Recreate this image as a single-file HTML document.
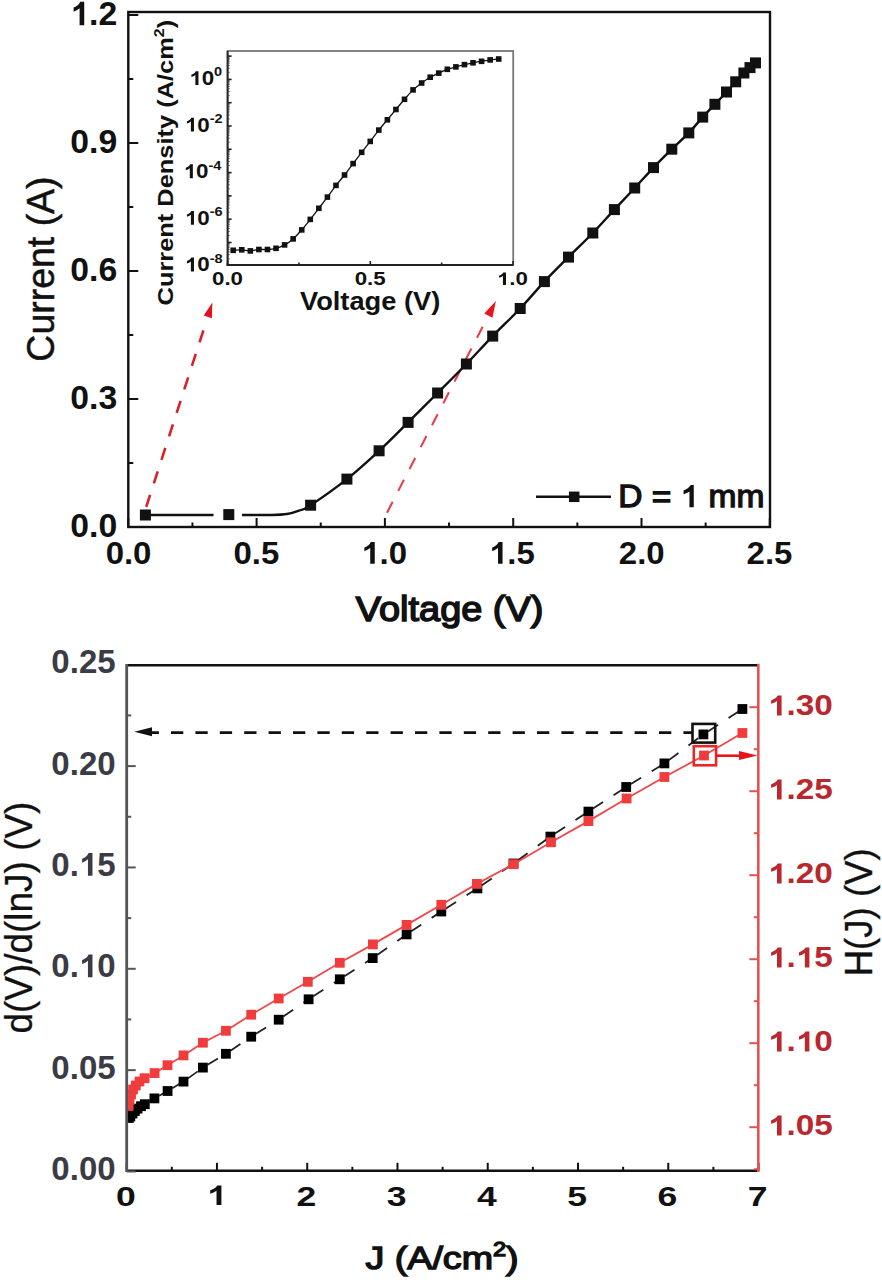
<!DOCTYPE html><html><head><meta charset="utf-8"><title>Chart</title><style>html,body{margin:0;padding:0;background:#fff;width:882px;height:1280px;overflow:hidden}svg{display:block}text{font-family:"Liberation Sans",sans-serif}.one{fill-opacity:0;stroke-opacity:0}</style></head><body>
<svg width="882" height="1280" viewBox="0 0 882 1280">
<rect width="882" height="1280" fill="#fff"/>
<line x1="128.30" y1="527.00" x2="128.30" y2="518.00" stroke="#111" stroke-width="2"/>
<line x1="192.45" y1="527.00" x2="192.45" y2="522.50" stroke="#111" stroke-width="2"/>
<line x1="256.60" y1="527.00" x2="256.60" y2="518.00" stroke="#111" stroke-width="2"/>
<line x1="320.75" y1="527.00" x2="320.75" y2="522.50" stroke="#111" stroke-width="2"/>
<line x1="384.90" y1="527.00" x2="384.90" y2="518.00" stroke="#111" stroke-width="2"/>
<line x1="449.05" y1="527.00" x2="449.05" y2="522.50" stroke="#111" stroke-width="2"/>
<line x1="513.20" y1="527.00" x2="513.20" y2="518.00" stroke="#111" stroke-width="2"/>
<line x1="577.35" y1="527.00" x2="577.35" y2="522.50" stroke="#111" stroke-width="2"/>
<line x1="641.50" y1="527.00" x2="641.50" y2="518.00" stroke="#111" stroke-width="2"/>
<line x1="705.65" y1="527.00" x2="705.65" y2="522.50" stroke="#111" stroke-width="2"/>
<line x1="769.80" y1="527.00" x2="769.80" y2="518.00" stroke="#111" stroke-width="2"/>
<line x1="128.30" y1="527.00" x2="138.30" y2="527.00" stroke="#111" stroke-width="2"/>
<line x1="128.30" y1="463.00" x2="133.30" y2="463.00" stroke="#111" stroke-width="2"/>
<line x1="128.30" y1="399.00" x2="138.30" y2="399.00" stroke="#111" stroke-width="2"/>
<line x1="128.30" y1="335.00" x2="133.30" y2="335.00" stroke="#111" stroke-width="2"/>
<line x1="128.30" y1="271.00" x2="138.30" y2="271.00" stroke="#111" stroke-width="2"/>
<line x1="128.30" y1="207.00" x2="133.30" y2="207.00" stroke="#111" stroke-width="2"/>
<line x1="128.30" y1="143.00" x2="138.30" y2="143.00" stroke="#111" stroke-width="2"/>
<line x1="128.30" y1="79.00" x2="133.30" y2="79.00" stroke="#111" stroke-width="2"/>
<line x1="128.30" y1="15.00" x2="138.30" y2="15.00" stroke="#111" stroke-width="2"/>
<rect x="128.30" y="12.00" width="641.70" height="515.00" fill="none" stroke="#111" stroke-width="2.4"/>
<line x1="203.40" y1="330.38" x2="145.20" y2="510.00" stroke="#dc1f2b" stroke-width="2.6" stroke-dasharray="12.6 12.1"/><polygon points="212.40,302.60 203.69,315.54 211.87,318.20" fill="#e0141e"/>
<line x1="482.68" y1="326.70" x2="385.60" y2="515.50" stroke="#e6404c" stroke-width="2.1" stroke-dasharray="12.4 12.2"/><polygon points="495.90,301.00 484.26,313.57 492.45,317.78" fill="#e8141c"/>
<line x1="145.4" y1="515" x2="213.5" y2="515" stroke="#111" stroke-width="2.4"/>
<path d="M242.00,515.00 C247.00,515.00 264.50,515.17 272.00,515.00 C279.50,514.83 282.50,514.73 287.00,514.00 C291.50,513.27 295.07,512.07 299.00,510.60 C302.93,509.13 302.62,510.45 310.60,505.20 C318.58,499.95 335.48,488.17 346.90,479.10 C358.32,470.03 368.90,460.25 379.10,450.80 C389.30,441.35 398.35,432.03 408.10,422.40 C417.85,412.77 427.88,402.73 437.60,393.00 C447.32,383.27 457.22,373.48 466.40,364.00 C475.58,354.52 483.73,345.35 492.70,336.10 C501.67,326.85 511.58,317.58 520.20,308.50 C528.82,299.42 536.35,290.17 544.40,281.60 C552.45,273.03 560.43,265.20 568.50,257.10 C576.57,249.00 585.15,240.92 592.80,233.00 C600.45,225.08 607.42,217.10 614.40,209.60 C621.38,202.10 628.18,195.00 634.70,188.00 C641.22,181.00 647.32,174.07 653.50,167.60 C659.68,161.13 665.92,154.98 671.80,149.20 C677.68,143.42 683.65,138.25 688.80,132.90 C693.95,127.55 698.35,121.87 702.70,117.10 C707.05,112.33 710.93,108.48 714.90,104.30 C718.87,100.12 723.03,95.75 726.50,92.00 C729.97,88.25 732.80,84.97 735.70,81.80 C738.60,78.63 741.52,75.37 743.90,73.00 C746.28,70.63 748.07,69.28 750.00,67.60 C751.93,65.92 754.58,63.68 755.50,62.90" fill="none" stroke="#111" stroke-width="2.4"/>
<rect x="139.90" y="509.50" width="11" height="11" fill="#111"/>
<rect x="223.30" y="509.10" width="11" height="11" fill="#111"/>
<rect x="305.10" y="499.70" width="11" height="11" fill="#111"/>
<rect x="341.40" y="473.60" width="11" height="11" fill="#111"/>
<rect x="373.60" y="445.30" width="11" height="11" fill="#111"/>
<rect x="402.60" y="416.90" width="11" height="11" fill="#111"/>
<rect x="432.10" y="387.50" width="11" height="11" fill="#111"/>
<rect x="460.90" y="358.50" width="11" height="11" fill="#111"/>
<rect x="487.20" y="330.60" width="11" height="11" fill="#111"/>
<rect x="514.70" y="303.00" width="11" height="11" fill="#111"/>
<rect x="538.90" y="276.10" width="11" height="11" fill="#111"/>
<rect x="563.00" y="251.60" width="11" height="11" fill="#111"/>
<rect x="587.30" y="227.50" width="11" height="11" fill="#111"/>
<rect x="608.90" y="204.10" width="11" height="11" fill="#111"/>
<rect x="629.20" y="182.50" width="11" height="11" fill="#111"/>
<rect x="648.00" y="162.10" width="11" height="11" fill="#111"/>
<rect x="666.30" y="143.70" width="11" height="11" fill="#111"/>
<rect x="683.30" y="127.40" width="11" height="11" fill="#111"/>
<rect x="697.20" y="111.60" width="11" height="11" fill="#111"/>
<rect x="709.40" y="98.80" width="11" height="11" fill="#111"/>
<rect x="721.00" y="86.50" width="11" height="11" fill="#111"/>
<rect x="730.20" y="76.30" width="11" height="11" fill="#111"/>
<rect x="738.40" y="67.50" width="11" height="11" fill="#111"/>
<rect x="744.50" y="62.10" width="11" height="11" fill="#111"/>
<rect x="750.00" y="57.40" width="11" height="11" fill="#111"/>
<line x1="536" y1="496.8" x2="611" y2="496.8" stroke="#111" stroke-width="2.4"/>
<rect x="568.95" y="491.55" width="10.5" height="10.5" fill="#111"/>
<rect x="227.60" y="51.00" width="285.60" height="214.00" fill="#fff" stroke="#777" stroke-width="1.8"/>
<line x1="227.60" y1="51.00" x2="227.60" y2="265.90" stroke="#222" stroke-width="1.8"/>
<line x1="226.70" y1="265.00" x2="513.20" y2="265.00" stroke="#222" stroke-width="1.8"/>
<line x1="227.60" y1="258.79" x2="229.60" y2="258.79" stroke="#444" stroke-width="1"/>
<line x1="227.60" y1="254.68" x2="229.60" y2="254.68" stroke="#444" stroke-width="1"/>
<line x1="227.60" y1="251.77" x2="229.60" y2="251.77" stroke="#444" stroke-width="1"/>
<line x1="227.60" y1="249.51" x2="229.60" y2="249.51" stroke="#444" stroke-width="1"/>
<line x1="227.60" y1="247.67" x2="229.60" y2="247.67" stroke="#444" stroke-width="1"/>
<line x1="227.60" y1="246.11" x2="229.60" y2="246.11" stroke="#444" stroke-width="1"/>
<line x1="227.60" y1="244.76" x2="229.60" y2="244.76" stroke="#444" stroke-width="1"/>
<line x1="227.60" y1="243.57" x2="229.60" y2="243.57" stroke="#444" stroke-width="1"/>
<line x1="227.60" y1="242.50" x2="231.60" y2="242.50" stroke="#222" stroke-width="1.6"/>
<line x1="227.60" y1="235.49" x2="229.60" y2="235.49" stroke="#444" stroke-width="1"/>
<line x1="227.60" y1="231.38" x2="229.60" y2="231.38" stroke="#444" stroke-width="1"/>
<line x1="227.60" y1="228.47" x2="229.60" y2="228.47" stroke="#444" stroke-width="1"/>
<line x1="227.60" y1="226.21" x2="229.60" y2="226.21" stroke="#444" stroke-width="1"/>
<line x1="227.60" y1="224.37" x2="229.60" y2="224.37" stroke="#444" stroke-width="1"/>
<line x1="227.60" y1="222.81" x2="229.60" y2="222.81" stroke="#444" stroke-width="1"/>
<line x1="227.60" y1="221.46" x2="229.60" y2="221.46" stroke="#444" stroke-width="1"/>
<line x1="227.60" y1="220.27" x2="229.60" y2="220.27" stroke="#444" stroke-width="1"/>
<line x1="227.60" y1="219.20" x2="231.60" y2="219.20" stroke="#222" stroke-width="1.6"/>
<line x1="227.60" y1="212.19" x2="229.60" y2="212.19" stroke="#444" stroke-width="1"/>
<line x1="227.60" y1="208.08" x2="229.60" y2="208.08" stroke="#444" stroke-width="1"/>
<line x1="227.60" y1="205.17" x2="229.60" y2="205.17" stroke="#444" stroke-width="1"/>
<line x1="227.60" y1="202.91" x2="229.60" y2="202.91" stroke="#444" stroke-width="1"/>
<line x1="227.60" y1="201.07" x2="229.60" y2="201.07" stroke="#444" stroke-width="1"/>
<line x1="227.60" y1="199.51" x2="229.60" y2="199.51" stroke="#444" stroke-width="1"/>
<line x1="227.60" y1="198.16" x2="229.60" y2="198.16" stroke="#444" stroke-width="1"/>
<line x1="227.60" y1="196.97" x2="229.60" y2="196.97" stroke="#444" stroke-width="1"/>
<line x1="227.60" y1="195.90" x2="231.60" y2="195.90" stroke="#222" stroke-width="1.6"/>
<line x1="227.60" y1="188.89" x2="229.60" y2="188.89" stroke="#444" stroke-width="1"/>
<line x1="227.60" y1="184.78" x2="229.60" y2="184.78" stroke="#444" stroke-width="1"/>
<line x1="227.60" y1="181.87" x2="229.60" y2="181.87" stroke="#444" stroke-width="1"/>
<line x1="227.60" y1="179.61" x2="229.60" y2="179.61" stroke="#444" stroke-width="1"/>
<line x1="227.60" y1="177.77" x2="229.60" y2="177.77" stroke="#444" stroke-width="1"/>
<line x1="227.60" y1="176.21" x2="229.60" y2="176.21" stroke="#444" stroke-width="1"/>
<line x1="227.60" y1="174.86" x2="229.60" y2="174.86" stroke="#444" stroke-width="1"/>
<line x1="227.60" y1="173.67" x2="229.60" y2="173.67" stroke="#444" stroke-width="1"/>
<line x1="227.60" y1="172.60" x2="231.60" y2="172.60" stroke="#222" stroke-width="1.6"/>
<line x1="227.60" y1="165.59" x2="229.60" y2="165.59" stroke="#444" stroke-width="1"/>
<line x1="227.60" y1="161.48" x2="229.60" y2="161.48" stroke="#444" stroke-width="1"/>
<line x1="227.60" y1="158.57" x2="229.60" y2="158.57" stroke="#444" stroke-width="1"/>
<line x1="227.60" y1="156.31" x2="229.60" y2="156.31" stroke="#444" stroke-width="1"/>
<line x1="227.60" y1="154.47" x2="229.60" y2="154.47" stroke="#444" stroke-width="1"/>
<line x1="227.60" y1="152.91" x2="229.60" y2="152.91" stroke="#444" stroke-width="1"/>
<line x1="227.60" y1="151.56" x2="229.60" y2="151.56" stroke="#444" stroke-width="1"/>
<line x1="227.60" y1="150.37" x2="229.60" y2="150.37" stroke="#444" stroke-width="1"/>
<line x1="227.60" y1="149.30" x2="231.60" y2="149.30" stroke="#222" stroke-width="1.6"/>
<line x1="227.60" y1="142.29" x2="229.60" y2="142.29" stroke="#444" stroke-width="1"/>
<line x1="227.60" y1="138.18" x2="229.60" y2="138.18" stroke="#444" stroke-width="1"/>
<line x1="227.60" y1="135.27" x2="229.60" y2="135.27" stroke="#444" stroke-width="1"/>
<line x1="227.60" y1="133.01" x2="229.60" y2="133.01" stroke="#444" stroke-width="1"/>
<line x1="227.60" y1="131.17" x2="229.60" y2="131.17" stroke="#444" stroke-width="1"/>
<line x1="227.60" y1="129.61" x2="229.60" y2="129.61" stroke="#444" stroke-width="1"/>
<line x1="227.60" y1="128.26" x2="229.60" y2="128.26" stroke="#444" stroke-width="1"/>
<line x1="227.60" y1="127.07" x2="229.60" y2="127.07" stroke="#444" stroke-width="1"/>
<line x1="227.60" y1="126.00" x2="231.60" y2="126.00" stroke="#222" stroke-width="1.6"/>
<line x1="227.60" y1="118.99" x2="229.60" y2="118.99" stroke="#444" stroke-width="1"/>
<line x1="227.60" y1="114.88" x2="229.60" y2="114.88" stroke="#444" stroke-width="1"/>
<line x1="227.60" y1="111.97" x2="229.60" y2="111.97" stroke="#444" stroke-width="1"/>
<line x1="227.60" y1="109.71" x2="229.60" y2="109.71" stroke="#444" stroke-width="1"/>
<line x1="227.60" y1="107.87" x2="229.60" y2="107.87" stroke="#444" stroke-width="1"/>
<line x1="227.60" y1="106.31" x2="229.60" y2="106.31" stroke="#444" stroke-width="1"/>
<line x1="227.60" y1="104.96" x2="229.60" y2="104.96" stroke="#444" stroke-width="1"/>
<line x1="227.60" y1="103.77" x2="229.60" y2="103.77" stroke="#444" stroke-width="1"/>
<line x1="227.60" y1="102.70" x2="231.60" y2="102.70" stroke="#222" stroke-width="1.6"/>
<line x1="227.60" y1="95.69" x2="229.60" y2="95.69" stroke="#444" stroke-width="1"/>
<line x1="227.60" y1="91.58" x2="229.60" y2="91.58" stroke="#444" stroke-width="1"/>
<line x1="227.60" y1="88.67" x2="229.60" y2="88.67" stroke="#444" stroke-width="1"/>
<line x1="227.60" y1="86.41" x2="229.60" y2="86.41" stroke="#444" stroke-width="1"/>
<line x1="227.60" y1="84.57" x2="229.60" y2="84.57" stroke="#444" stroke-width="1"/>
<line x1="227.60" y1="83.01" x2="229.60" y2="83.01" stroke="#444" stroke-width="1"/>
<line x1="227.60" y1="81.66" x2="229.60" y2="81.66" stroke="#444" stroke-width="1"/>
<line x1="227.60" y1="80.47" x2="229.60" y2="80.47" stroke="#444" stroke-width="1"/>
<line x1="227.60" y1="79.40" x2="231.60" y2="79.40" stroke="#222" stroke-width="1.6"/>
<line x1="227.60" y1="72.39" x2="229.60" y2="72.39" stroke="#444" stroke-width="1"/>
<line x1="227.60" y1="68.28" x2="229.60" y2="68.28" stroke="#444" stroke-width="1"/>
<line x1="227.60" y1="65.37" x2="229.60" y2="65.37" stroke="#444" stroke-width="1"/>
<line x1="227.60" y1="63.11" x2="229.60" y2="63.11" stroke="#444" stroke-width="1"/>
<line x1="227.60" y1="61.27" x2="229.60" y2="61.27" stroke="#444" stroke-width="1"/>
<line x1="227.60" y1="59.71" x2="229.60" y2="59.71" stroke="#444" stroke-width="1"/>
<line x1="227.60" y1="58.36" x2="229.60" y2="58.36" stroke="#444" stroke-width="1"/>
<line x1="227.60" y1="57.17" x2="229.60" y2="57.17" stroke="#444" stroke-width="1"/>
<line x1="227.60" y1="56.10" x2="231.60" y2="56.10" stroke="#222" stroke-width="1.6"/>
<line x1="227.60" y1="265.00" x2="227.60" y2="261.00" stroke="#222" stroke-width="1.6"/>
<line x1="298.95" y1="265.00" x2="298.95" y2="262.50" stroke="#222" stroke-width="1.6"/>
<line x1="370.30" y1="265.00" x2="370.30" y2="261.00" stroke="#222" stroke-width="1.6"/>
<line x1="441.65" y1="265.00" x2="441.65" y2="262.50" stroke="#222" stroke-width="1.6"/>
<line x1="513.00" y1="265.00" x2="513.00" y2="261.00" stroke="#222" stroke-width="1.6"/>
<path d="M233.20,250.30 C234.63,250.22 238.91,249.70 241.76,249.80 C244.62,249.90 247.47,250.95 250.33,250.90 C253.18,250.85 256.04,249.73 258.89,249.50 C261.75,249.27 264.60,249.70 267.46,249.50 C270.31,249.30 273.17,249.07 276.02,248.30 C278.88,247.53 281.73,246.47 284.59,244.90 C287.44,243.33 290.30,241.40 293.15,238.90 C296.01,236.40 298.86,233.15 301.72,229.90 C304.57,226.65 307.43,223.00 310.28,219.40 C313.14,215.80 315.99,212.02 318.85,208.30 C321.70,204.58 324.56,200.92 327.41,197.10 C330.27,193.28 333.12,189.08 335.98,185.40 C338.84,181.72 341.69,178.63 344.54,175.00 C347.40,171.37 350.25,167.38 353.11,163.60 C355.97,159.82 358.82,156.00 361.67,152.30 C364.53,148.60 367.38,145.10 370.24,141.40 C373.10,137.70 375.95,133.70 378.80,130.10 C381.66,126.50 384.51,123.23 387.37,119.80 C390.23,116.37 393.08,112.92 395.93,109.50 C398.79,106.08 401.64,102.57 404.50,99.30 C407.36,96.03 410.21,92.62 413.06,89.90 C415.92,87.18 418.77,85.12 421.63,83.00 C424.49,80.88 427.34,78.85 430.19,77.20 C433.05,75.55 435.90,74.42 438.76,73.10 C441.62,71.78 444.47,70.33 447.32,69.30 C450.18,68.27 453.03,67.68 455.89,66.90 C458.75,66.12 461.60,65.28 464.45,64.60 C467.31,63.92 470.16,63.35 473.02,62.80 C475.88,62.25 478.73,61.78 481.58,61.30 C484.44,60.82 487.29,60.28 490.15,59.90 C493.00,59.52 497.29,59.15 498.71,59.00" fill="none" stroke="#111" stroke-width="1.3"/>
<rect x="230.40" y="247.50" width="5.6" height="5.6" fill="#111"/>
<rect x="238.96" y="247.00" width="5.6" height="5.6" fill="#111"/>
<rect x="247.53" y="248.10" width="5.6" height="5.6" fill="#111"/>
<rect x="256.09" y="246.70" width="5.6" height="5.6" fill="#111"/>
<rect x="264.66" y="246.70" width="5.6" height="5.6" fill="#111"/>
<rect x="273.22" y="245.50" width="5.6" height="5.6" fill="#111"/>
<rect x="281.79" y="242.10" width="5.6" height="5.6" fill="#111"/>
<rect x="290.35" y="236.10" width="5.6" height="5.6" fill="#111"/>
<rect x="298.92" y="227.10" width="5.6" height="5.6" fill="#111"/>
<rect x="307.48" y="216.60" width="5.6" height="5.6" fill="#111"/>
<rect x="316.05" y="205.50" width="5.6" height="5.6" fill="#111"/>
<rect x="324.61" y="194.30" width="5.6" height="5.6" fill="#111"/>
<rect x="333.18" y="182.60" width="5.6" height="5.6" fill="#111"/>
<rect x="341.74" y="172.20" width="5.6" height="5.6" fill="#111"/>
<rect x="350.31" y="160.80" width="5.6" height="5.6" fill="#111"/>
<rect x="358.87" y="149.50" width="5.6" height="5.6" fill="#111"/>
<rect x="367.44" y="138.60" width="5.6" height="5.6" fill="#111"/>
<rect x="376.00" y="127.30" width="5.6" height="5.6" fill="#111"/>
<rect x="384.57" y="117.00" width="5.6" height="5.6" fill="#111"/>
<rect x="393.13" y="106.70" width="5.6" height="5.6" fill="#111"/>
<rect x="401.70" y="96.50" width="5.6" height="5.6" fill="#111"/>
<rect x="410.26" y="87.10" width="5.6" height="5.6" fill="#111"/>
<rect x="418.83" y="80.20" width="5.6" height="5.6" fill="#111"/>
<rect x="427.39" y="74.40" width="5.6" height="5.6" fill="#111"/>
<rect x="435.96" y="70.30" width="5.6" height="5.6" fill="#111"/>
<rect x="444.52" y="66.50" width="5.6" height="5.6" fill="#111"/>
<rect x="453.09" y="64.10" width="5.6" height="5.6" fill="#111"/>
<rect x="461.65" y="61.80" width="5.6" height="5.6" fill="#111"/>
<rect x="470.22" y="60.00" width="5.6" height="5.6" fill="#111"/>
<rect x="478.78" y="58.50" width="5.6" height="5.6" fill="#111"/>
<rect x="487.35" y="57.10" width="5.6" height="5.6" fill="#111"/>
<rect x="495.91" y="56.20" width="5.6" height="5.6" fill="#111"/>
<line x1="126.70" y1="665.30" x2="758.30" y2="665.30" stroke="#111" stroke-width="2.4"/>
<line x1="126.70" y1="1170.80" x2="758.30" y2="1170.80" stroke="#111" stroke-width="2.6"/>
<line x1="126.70" y1="1170.80" x2="126.70" y2="1162.80" stroke="#111" stroke-width="2"/>
<line x1="171.83" y1="1170.80" x2="171.83" y2="1166.80" stroke="#111" stroke-width="2"/>
<line x1="216.96" y1="1170.80" x2="216.96" y2="1162.80" stroke="#111" stroke-width="2"/>
<line x1="262.09" y1="1170.80" x2="262.09" y2="1166.80" stroke="#111" stroke-width="2"/>
<line x1="307.22" y1="1170.80" x2="307.22" y2="1162.80" stroke="#111" stroke-width="2"/>
<line x1="352.35" y1="1170.80" x2="352.35" y2="1166.80" stroke="#111" stroke-width="2"/>
<line x1="397.48" y1="1170.80" x2="397.48" y2="1162.80" stroke="#111" stroke-width="2"/>
<line x1="442.61" y1="1170.80" x2="442.61" y2="1166.80" stroke="#111" stroke-width="2"/>
<line x1="487.74" y1="1170.80" x2="487.74" y2="1162.80" stroke="#111" stroke-width="2"/>
<line x1="532.87" y1="1170.80" x2="532.87" y2="1166.80" stroke="#111" stroke-width="2"/>
<line x1="578.00" y1="1170.80" x2="578.00" y2="1162.80" stroke="#111" stroke-width="2"/>
<line x1="623.13" y1="1170.80" x2="623.13" y2="1166.80" stroke="#111" stroke-width="2"/>
<line x1="668.26" y1="1170.80" x2="668.26" y2="1162.80" stroke="#111" stroke-width="2"/>
<line x1="713.39" y1="1170.80" x2="713.39" y2="1166.80" stroke="#111" stroke-width="2"/>
<line x1="758.52" y1="1170.80" x2="758.52" y2="1162.80" stroke="#111" stroke-width="2"/>
<line x1="126.70" y1="664.10" x2="126.70" y2="1172.10" stroke="#555" stroke-width="2.8"/>
<line x1="126.70" y1="1171.50" x2="135.70" y2="1171.50" stroke="#555" stroke-width="2"/>
<line x1="126.70" y1="1120.83" x2="131.20" y2="1120.83" stroke="#555" stroke-width="2"/>
<line x1="126.70" y1="1070.15" x2="135.70" y2="1070.15" stroke="#555" stroke-width="2"/>
<line x1="126.70" y1="1019.47" x2="131.20" y2="1019.47" stroke="#555" stroke-width="2"/>
<line x1="126.70" y1="968.80" x2="135.70" y2="968.80" stroke="#555" stroke-width="2"/>
<line x1="126.70" y1="918.12" x2="131.20" y2="918.12" stroke="#555" stroke-width="2"/>
<line x1="126.70" y1="867.45" x2="135.70" y2="867.45" stroke="#555" stroke-width="2"/>
<line x1="126.70" y1="816.77" x2="131.20" y2="816.77" stroke="#555" stroke-width="2"/>
<line x1="126.70" y1="766.10" x2="135.70" y2="766.10" stroke="#555" stroke-width="2"/>
<line x1="126.70" y1="715.42" x2="131.20" y2="715.42" stroke="#555" stroke-width="2"/>
<line x1="758.30" y1="663.80" x2="758.30" y2="1172.10" stroke="#e25454" stroke-width="2.6"/>
<line x1="758.30" y1="1169.20" x2="753.80" y2="1169.20" stroke="#e25454" stroke-width="2"/>
<line x1="758.30" y1="1127.20" x2="749.30" y2="1127.20" stroke="#e25454" stroke-width="2"/>
<line x1="758.30" y1="1085.20" x2="753.80" y2="1085.20" stroke="#e25454" stroke-width="2"/>
<line x1="758.30" y1="1043.20" x2="749.30" y2="1043.20" stroke="#e25454" stroke-width="2"/>
<line x1="758.30" y1="1001.20" x2="753.80" y2="1001.20" stroke="#e25454" stroke-width="2"/>
<line x1="758.30" y1="959.20" x2="749.30" y2="959.20" stroke="#e25454" stroke-width="2"/>
<line x1="758.30" y1="917.20" x2="753.80" y2="917.20" stroke="#e25454" stroke-width="2"/>
<line x1="758.30" y1="875.20" x2="749.30" y2="875.20" stroke="#e25454" stroke-width="2"/>
<line x1="758.30" y1="833.20" x2="753.80" y2="833.20" stroke="#e25454" stroke-width="2"/>
<line x1="758.30" y1="791.20" x2="749.30" y2="791.20" stroke="#e25454" stroke-width="2"/>
<line x1="758.30" y1="749.20" x2="753.80" y2="749.20" stroke="#e25454" stroke-width="2"/>
<line x1="758.30" y1="707.20" x2="749.30" y2="707.20" stroke="#e25454" stroke-width="2"/>
<defs><clipPath id="bclip"><rect x="128.1" y="666.50" width="629.10" height="503.00"/></clipPath></defs><g clip-path="url(#bclip)">
<line x1="128.8" y1="1118.0" x2="130.3" y2="1116.5" stroke="#222" stroke-width="1.8" stroke-dasharray="12 12.5" stroke-dashoffset="19"/>
<line x1="130.3" y1="1116.5" x2="132.5" y2="1113.5" stroke="#222" stroke-width="1.8" stroke-dasharray="12 12.5" stroke-dashoffset="19"/>
<line x1="132.5" y1="1113.5" x2="134.8" y2="1111.0" stroke="#222" stroke-width="1.8" stroke-dasharray="12 12.5" stroke-dashoffset="19"/>
<line x1="134.8" y1="1111.0" x2="137.5" y2="1108.6" stroke="#222" stroke-width="1.8" stroke-dasharray="12 12.5" stroke-dashoffset="19"/>
<line x1="137.5" y1="1108.6" x2="141.0" y2="1106.2" stroke="#222" stroke-width="1.8" stroke-dasharray="12 12.5" stroke-dashoffset="19"/>
<line x1="141.0" y1="1106.2" x2="144.8" y2="1104.2" stroke="#222" stroke-width="1.8" stroke-dasharray="12 12.5" stroke-dashoffset="19"/>
<line x1="144.8" y1="1104.2" x2="154.4" y2="1098.4" stroke="#222" stroke-width="1.8" stroke-dasharray="12 12.5" stroke-dashoffset="19"/>
<line x1="154.4" y1="1098.4" x2="167.6" y2="1091.0" stroke="#222" stroke-width="1.8" stroke-dasharray="12 12.5" stroke-dashoffset="19"/>
<line x1="167.6" y1="1091.0" x2="183.5" y2="1081.6" stroke="#222" stroke-width="1.8" stroke-dasharray="12 12.5" stroke-dashoffset="19"/>
<line x1="183.5" y1="1081.6" x2="202.9" y2="1067.6" stroke="#222" stroke-width="1.8" stroke-dasharray="12 12.5" stroke-dashoffset="19"/>
<line x1="202.9" y1="1067.6" x2="225.9" y2="1053.8" stroke="#222" stroke-width="1.8" stroke-dasharray="12 12.5" stroke-dashoffset="19"/>
<line x1="225.9" y1="1053.8" x2="251.2" y2="1036.7" stroke="#222" stroke-width="1.8" stroke-dasharray="12 12.5" stroke-dashoffset="19"/>
<line x1="251.2" y1="1036.7" x2="278.7" y2="1019.7" stroke="#222" stroke-width="1.8" stroke-dasharray="12 12.5" stroke-dashoffset="19"/>
<line x1="278.7" y1="1019.7" x2="308.6" y2="999.3" stroke="#222" stroke-width="1.8" stroke-dasharray="12 12.5" stroke-dashoffset="19"/>
<line x1="308.6" y1="999.3" x2="339.8" y2="979.3" stroke="#222" stroke-width="1.8" stroke-dasharray="12 12.5" stroke-dashoffset="19"/>
<line x1="339.8" y1="979.3" x2="372.7" y2="958.1" stroke="#222" stroke-width="1.8" stroke-dasharray="12 12.5" stroke-dashoffset="19"/>
<line x1="372.7" y1="958.1" x2="406.6" y2="934.4" stroke="#222" stroke-width="1.8" stroke-dasharray="12 12.5" stroke-dashoffset="19"/>
<line x1="406.6" y1="934.4" x2="441.3" y2="911.5" stroke="#222" stroke-width="1.8" stroke-dasharray="12 12.5" stroke-dashoffset="19"/>
<line x1="441.3" y1="911.5" x2="477.4" y2="888.4" stroke="#222" stroke-width="1.8" stroke-dasharray="12 12.5" stroke-dashoffset="19"/>
<line x1="477.4" y1="888.4" x2="513.5" y2="863.5" stroke="#222" stroke-width="1.8" stroke-dasharray="12 12.5" stroke-dashoffset="19"/>
<line x1="513.5" y1="863.5" x2="550.4" y2="836.6" stroke="#222" stroke-width="1.8" stroke-dasharray="12 12.5" stroke-dashoffset="19"/>
<line x1="550.4" y1="836.6" x2="588.4" y2="811.6" stroke="#222" stroke-width="1.8" stroke-dasharray="12 12.5" stroke-dashoffset="19"/>
<line x1="588.4" y1="811.6" x2="626.2" y2="787.0" stroke="#222" stroke-width="1.8" stroke-dasharray="12 12.5" stroke-dashoffset="19"/>
<line x1="626.2" y1="787.0" x2="664.4" y2="763.4" stroke="#222" stroke-width="1.8" stroke-dasharray="12 12.5" stroke-dashoffset="19"/>
<line x1="664.4" y1="763.4" x2="703.4" y2="734.4" stroke="#222" stroke-width="1.8" stroke-dasharray="12 12.5" stroke-dashoffset="19"/>
<line x1="703.4" y1="734.4" x2="742.4" y2="709.0" stroke="#222" stroke-width="1.8" stroke-dasharray="12 12.5" stroke-dashoffset="19"/>
<rect x="123.90" y="1113.10" width="9.8" height="9.8" fill="#000"/>
<rect x="125.40" y="1111.60" width="9.8" height="9.8" fill="#000"/>
<rect x="127.60" y="1108.60" width="9.8" height="9.8" fill="#000"/>
<rect x="129.90" y="1106.10" width="9.8" height="9.8" fill="#000"/>
<rect x="132.60" y="1103.70" width="9.8" height="9.8" fill="#000"/>
<rect x="136.10" y="1101.30" width="9.8" height="9.8" fill="#000"/>
<rect x="139.90" y="1099.30" width="9.8" height="9.8" fill="#000"/>
<rect x="149.50" y="1093.50" width="9.8" height="9.8" fill="#000"/>
<rect x="162.70" y="1086.10" width="9.8" height="9.8" fill="#000"/>
<rect x="178.60" y="1076.70" width="9.8" height="9.8" fill="#000"/>
<rect x="198.00" y="1062.70" width="9.8" height="9.8" fill="#000"/>
<rect x="221.00" y="1048.90" width="9.8" height="9.8" fill="#000"/>
<rect x="246.30" y="1031.80" width="9.8" height="9.8" fill="#000"/>
<rect x="273.80" y="1014.80" width="9.8" height="9.8" fill="#000"/>
<rect x="303.70" y="994.40" width="9.8" height="9.8" fill="#000"/>
<rect x="334.90" y="974.40" width="9.8" height="9.8" fill="#000"/>
<rect x="367.80" y="953.20" width="9.8" height="9.8" fill="#000"/>
<rect x="401.70" y="929.50" width="9.8" height="9.8" fill="#000"/>
<rect x="436.40" y="906.60" width="9.8" height="9.8" fill="#000"/>
<rect x="472.50" y="883.50" width="9.8" height="9.8" fill="#000"/>
<rect x="508.60" y="858.60" width="9.8" height="9.8" fill="#000"/>
<rect x="545.50" y="831.70" width="9.8" height="9.8" fill="#000"/>
<rect x="583.50" y="806.70" width="9.8" height="9.8" fill="#000"/>
<rect x="621.30" y="782.10" width="9.8" height="9.8" fill="#000"/>
<rect x="659.50" y="758.50" width="9.8" height="9.8" fill="#000"/>
<rect x="698.50" y="729.50" width="9.8" height="9.8" fill="#000"/>
<rect x="737.50" y="704.10" width="9.8" height="9.8" fill="#000"/>
<polyline points="128.6,1106.0 129.5,1100.0 131.0,1094.5 133.0,1089.5 135.8,1085.5 139.5,1081.5 144.6,1078.2 154.6,1073.1 167.5,1065.2 183.5,1055.4 202.9,1042.7 225.9,1030.8 251.2,1014.7 278.7,998.5 307.8,981.8 339.8,962.8 372.9,944.4 406.6,924.9 441.3,904.8 476.9,883.9 513.5,864.2 551.0,842.3 588.4,821.1 626.6,798.5 664.4,777.0 704.0,755.5 742.4,733.0" fill="none" stroke="#f04848" stroke-width="1.8"/>
<rect x="123.70" y="1101.10" width="9.8" height="9.8" fill="#f03c3c"/>
<rect x="124.60" y="1095.10" width="9.8" height="9.8" fill="#f03c3c"/>
<rect x="126.10" y="1089.60" width="9.8" height="9.8" fill="#f03c3c"/>
<rect x="128.10" y="1084.60" width="9.8" height="9.8" fill="#f03c3c"/>
<rect x="130.90" y="1080.60" width="9.8" height="9.8" fill="#f03c3c"/>
<rect x="134.60" y="1076.60" width="9.8" height="9.8" fill="#f03c3c"/>
<rect x="139.70" y="1073.30" width="9.8" height="9.8" fill="#f03c3c"/>
<rect x="149.70" y="1068.20" width="9.8" height="9.8" fill="#f03c3c"/>
<rect x="162.60" y="1060.30" width="9.8" height="9.8" fill="#f03c3c"/>
<rect x="178.60" y="1050.50" width="9.8" height="9.8" fill="#f03c3c"/>
<rect x="198.00" y="1037.80" width="9.8" height="9.8" fill="#f03c3c"/>
<rect x="221.00" y="1025.90" width="9.8" height="9.8" fill="#f03c3c"/>
<rect x="246.30" y="1009.80" width="9.8" height="9.8" fill="#f03c3c"/>
<rect x="273.80" y="993.60" width="9.8" height="9.8" fill="#f03c3c"/>
<rect x="302.90" y="976.90" width="9.8" height="9.8" fill="#f03c3c"/>
<rect x="334.90" y="957.90" width="9.8" height="9.8" fill="#f03c3c"/>
<rect x="368.00" y="939.50" width="9.8" height="9.8" fill="#f03c3c"/>
<rect x="401.70" y="920.00" width="9.8" height="9.8" fill="#f03c3c"/>
<rect x="436.40" y="899.90" width="9.8" height="9.8" fill="#f03c3c"/>
<rect x="472.00" y="879.00" width="9.8" height="9.8" fill="#f03c3c"/>
<rect x="508.60" y="859.30" width="9.8" height="9.8" fill="#f03c3c"/>
<rect x="546.10" y="837.40" width="9.8" height="9.8" fill="#f03c3c"/>
<rect x="583.50" y="816.20" width="9.8" height="9.8" fill="#f03c3c"/>
<rect x="621.70" y="793.60" width="9.8" height="9.8" fill="#f03c3c"/>
<rect x="659.50" y="772.10" width="9.8" height="9.8" fill="#f03c3c"/>
<rect x="699.10" y="750.60" width="9.8" height="9.8" fill="#f03c3c"/>
<rect x="737.50" y="728.10" width="9.8" height="9.8" fill="#f03c3c"/>
</g>
<rect x="692.5" y="723.9" width="22.7" height="18.7" fill="none" stroke="#111" stroke-width="2.6"/>
<rect x="693.8" y="746.2" width="22.3" height="19.1" fill="none" stroke="#e82828" stroke-width="2.6"/>
<line x1="146.6" y1="732.6" x2="692.5" y2="732.6" stroke="#111" stroke-width="2.8" stroke-dasharray="12.3 12.1"/>
<polygon points="134.3,731.8 152,727.3 152,736.3" fill="#111"/>
<line x1="716.1" y1="755.7" x2="742" y2="755.7" stroke="#e8141c" stroke-width="2.6"/>
<polygon points="757.5,755.5 739,751 739,760" fill="#e8141c"/>
<g transform="translate(70.35,537.20) scale(1.0548,1.0636)"><text font-size="32" font-weight="bold" fill="#111" >0.0</text></g>
<g transform="translate(70.35,409.20) scale(1.0548,1.0636)"><text font-size="32" font-weight="bold" fill="#111" >0.3</text></g>
<g transform="translate(70.35,281.20) scale(1.0548,1.0636)"><text font-size="32" font-weight="bold" fill="#111" >0.6</text></g>
<g transform="translate(70.35,153.20) scale(1.0548,1.0636)"><text font-size="32" font-weight="bold" fill="#111" >0.9</text></g>
<g transform="translate(70.35,25.20) scale(1.0548,1.0636)"><text font-size="32" font-weight="bold" fill="#111" ><tspan class="one">1</tspan>.2</text><path d="M842,0 L561,0 L561,1018 Q407,879 198,813 L198,1058 Q308,1093 426,1182 Q545,1270 599,1409 L842,1409 Z" transform="translate(0.000,0.000) scale(0.01562,-0.01562)" fill="#111" /></g>
<g transform="translate(105.63,563.70) scale(1.0302,0.9864)"><text font-size="32" font-weight="bold" fill="#111" >0.0</text></g>
<g transform="translate(233.42,563.70) scale(1.0302,0.9864)"><text font-size="32" font-weight="bold" fill="#111" >0.5</text></g>
<g transform="translate(361.20,563.70) scale(1.0302,0.9864)"><text font-size="32" font-weight="bold" fill="#111" ><tspan class="one">1</tspan>.0</text><path d="M842,0 L561,0 L561,1018 Q407,879 198,813 L198,1058 Q308,1093 426,1182 Q545,1270 599,1409 L842,1409 Z" transform="translate(0.000,0.000) scale(0.01562,-0.01562)" fill="#111" /></g>
<g transform="translate(488.99,563.70) scale(1.0302,0.9864)"><text font-size="32" font-weight="bold" fill="#111" ><tspan class="one">1</tspan>.5</text><path d="M842,0 L561,0 L561,1018 Q407,879 198,813 L198,1058 Q308,1093 426,1182 Q545,1270 599,1409 L842,1409 Z" transform="translate(0.000,0.000) scale(0.01562,-0.01562)" fill="#111" /></g>
<g transform="translate(618.83,563.70) scale(1.0302,0.9864)"><text font-size="32" font-weight="bold" fill="#111" >2.0</text></g>
<g transform="translate(746.62,563.70) scale(1.0302,0.9864)"><text font-size="32" font-weight="bold" fill="#111" >2.5</text></g>
<g transform="translate(189.24,85.00) scale(1.1194,1.0059)"><text font-size="20" font-weight="bold" fill="#111" ><tspan class="one">1</tspan>0<tspan font-size="13" dy="-8.5">0</tspan></text><path d="M842,0 L561,0 L561,1018 Q407,879 198,813 L198,1058 Q308,1093 426,1182 Q545,1270 599,1409 L842,1409 Z" transform="translate(0.000,0.000) scale(0.00977,-0.00977)" fill="#111" /></g>
<g transform="translate(184.76,131.60) scale(1.1194,1.0059)"><text font-size="20" font-weight="bold" fill="#111" ><tspan class="one">1</tspan>0<tspan font-size="13" dy="-8.5">-2</tspan></text><path d="M842,0 L561,0 L561,1018 Q407,879 198,813 L198,1058 Q308,1093 426,1182 Q545,1270 599,1409 L842,1409 Z" transform="translate(0.000,0.000) scale(0.00977,-0.00977)" fill="#111" /></g>
<g transform="translate(183.64,178.20) scale(1.1194,1.0059)"><text font-size="20" font-weight="bold" fill="#111" ><tspan class="one">1</tspan>0<tspan font-size="13" dy="-8.5">-4</tspan></text><path d="M842,0 L561,0 L561,1018 Q407,879 198,813 L198,1058 Q308,1093 426,1182 Q545,1270 599,1409 L842,1409 Z" transform="translate(0.000,0.000) scale(0.00977,-0.00977)" fill="#111" /></g>
<g transform="translate(184.76,224.80) scale(1.1194,1.0059)"><text font-size="20" font-weight="bold" fill="#111" ><tspan class="one">1</tspan>0<tspan font-size="13" dy="-8.5">-6</tspan></text><path d="M842,0 L561,0 L561,1018 Q407,879 198,813 L198,1058 Q308,1093 426,1182 Q545,1270 599,1409 L842,1409 Z" transform="translate(0.000,0.000) scale(0.00977,-0.00977)" fill="#111" /></g>
<g transform="translate(184.76,271.40) scale(1.1194,1.0059)"><text font-size="20" font-weight="bold" fill="#111" ><tspan class="one">1</tspan>0<tspan font-size="13" dy="-8.5">-8</tspan></text><path d="M842,0 L561,0 L561,1018 Q407,879 198,813 L198,1058 Q308,1093 426,1182 Q545,1270 599,1409 L842,1409 Z" transform="translate(0.000,0.000) scale(0.00977,-0.00977)" fill="#111" /></g>
<g transform="translate(211.98,285.00) scale(1.1160,0.9000)"><text font-size="20" font-weight="bold" fill="#111" >0.0</text></g>
<g transform="translate(354.68,285.00) scale(1.1160,0.9000)"><text font-size="20" font-weight="bold" fill="#111" >0.5</text></g>
<g transform="translate(496.82,285.00) scale(1.1160,0.9000)"><text font-size="20" font-weight="bold" fill="#111" ><tspan class="one">1</tspan>.0</text><path d="M842,0 L561,0 L561,1018 Q407,879 198,813 L198,1058 Q308,1093 426,1182 Q545,1270 599,1409 L842,1409 Z" transform="translate(0.000,0.000) scale(0.00977,-0.00977)" fill="#111" /></g>
<g transform="translate(51.37,1179.90) scale(1.0317,1.0364)"><text font-size="32" font-weight="bold" fill="#3b3b45" >0.00</text></g>
<g transform="translate(51.37,1078.55) scale(1.0317,1.0364)"><text font-size="32" font-weight="bold" fill="#3b3b45" >0.05</text></g>
<g transform="translate(51.37,977.20) scale(1.0317,1.0364)"><text font-size="32" font-weight="bold" fill="#3b3b45" >0.<tspan class="one">1</tspan>0</text><path d="M842,0 L561,0 L561,1018 Q407,879 198,813 L198,1058 Q308,1093 426,1182 Q545,1270 599,1409 L842,1409 Z" transform="translate(26.688,0.000) scale(0.01562,-0.01562)" fill="#3b3b45" /></g>
<g transform="translate(51.37,875.85) scale(1.0317,1.0364)"><text font-size="32" font-weight="bold" fill="#3b3b45" >0.<tspan class="one">1</tspan>5</text><path d="M842,0 L561,0 L561,1018 Q407,879 198,813 L198,1058 Q308,1093 426,1182 Q545,1270 599,1409 L842,1409 Z" transform="translate(26.688,0.000) scale(0.01562,-0.01562)" fill="#3b3b45" /></g>
<g transform="translate(51.37,774.50) scale(1.0317,1.0364)"><text font-size="32" font-weight="bold" fill="#3b3b45" >0.20</text></g>
<g transform="translate(51.37,673.15) scale(1.0317,1.0364)"><text font-size="32" font-weight="bold" fill="#3b3b45" >0.25</text></g>
<g transform="translate(767.88,1135.45) scale(1.0750,0.9409)"><text font-size="31" font-weight="bold" fill="#b8282e" ><tspan class="one">1</tspan>.05</text><path d="M842,0 L561,0 L561,1018 Q407,879 198,813 L198,1058 Q308,1093 426,1182 Q545,1270 599,1409 L842,1409 Z" transform="translate(0.000,0.000) scale(0.01514,-0.01514)" fill="#b8282e" /></g>
<g transform="translate(767.88,1051.45) scale(1.0750,0.9409)"><text font-size="31" font-weight="bold" fill="#b8282e" ><tspan class="one">1</tspan>.<tspan class="one">1</tspan>0</text><path d="M842,0 L561,0 L561,1018 Q407,879 198,813 L198,1058 Q308,1093 426,1182 Q545,1270 599,1409 L842,1409 Z" transform="translate(0.000,0.000) scale(0.01514,-0.01514)" fill="#b8282e" /><path d="M842,0 L561,0 L561,1018 Q407,879 198,813 L198,1058 Q308,1093 426,1182 Q545,1270 599,1409 L842,1409 Z" transform="translate(25.875,0.000) scale(0.01514,-0.01514)" fill="#b8282e" /></g>
<g transform="translate(767.88,967.45) scale(1.0750,0.9409)"><text font-size="31" font-weight="bold" fill="#b8282e" ><tspan class="one">1</tspan>.<tspan class="one">1</tspan>5</text><path d="M842,0 L561,0 L561,1018 Q407,879 198,813 L198,1058 Q308,1093 426,1182 Q545,1270 599,1409 L842,1409 Z" transform="translate(0.000,0.000) scale(0.01514,-0.01514)" fill="#b8282e" /><path d="M842,0 L561,0 L561,1018 Q407,879 198,813 L198,1058 Q308,1093 426,1182 Q545,1270 599,1409 L842,1409 Z" transform="translate(25.875,0.000) scale(0.01514,-0.01514)" fill="#b8282e" /></g>
<g transform="translate(767.88,883.45) scale(1.0750,0.9409)"><text font-size="31" font-weight="bold" fill="#b8282e" ><tspan class="one">1</tspan>.20</text><path d="M842,0 L561,0 L561,1018 Q407,879 198,813 L198,1058 Q308,1093 426,1182 Q545,1270 599,1409 L842,1409 Z" transform="translate(0.000,0.000) scale(0.01514,-0.01514)" fill="#b8282e" /></g>
<g transform="translate(767.88,799.45) scale(1.0750,0.9409)"><text font-size="31" font-weight="bold" fill="#b8282e" ><tspan class="one">1</tspan>.25</text><path d="M842,0 L561,0 L561,1018 Q407,879 198,813 L198,1058 Q308,1093 426,1182 Q545,1270 599,1409 L842,1409 Z" transform="translate(0.000,0.000) scale(0.01514,-0.01514)" fill="#b8282e" /></g>
<g transform="translate(767.88,715.45) scale(1.0750,0.9409)"><text font-size="31" font-weight="bold" fill="#b8282e" ><tspan class="one">1</tspan>.30</text><path d="M842,0 L561,0 L561,1018 Q407,879 198,813 L198,1058 Q308,1093 426,1182 Q545,1270 599,1409 L842,1409 Z" transform="translate(0.000,0.000) scale(0.01514,-0.01514)" fill="#b8282e" /></g>
<g transform="translate(115.95,1205.80) scale(1.1467,0.9136)"><text font-size="31" font-weight="bold" fill="#111" >0</text></g>
<g transform="translate(206.79,1204.89) scale(1.1467,0.9136)"><text font-size="31" font-weight="bold" fill="#111" ><tspan class="one">1</tspan></text><path d="M842,0 L561,0 L561,1018 Q407,879 198,813 L198,1058 Q308,1093 426,1182 Q545,1270 599,1409 L842,1409 Z" transform="translate(0.000,0.000) scale(0.01514,-0.01514)" fill="#111" /></g>
<g transform="translate(296.47,1205.80) scale(1.1467,0.9136)"><text font-size="31" font-weight="bold" fill="#111" >2</text></g>
<g transform="translate(386.73,1205.80) scale(1.1467,0.9136)"><text font-size="31" font-weight="bold" fill="#111" >3</text></g>
<g transform="translate(476.99,1205.80) scale(1.1467,0.9136)"><text font-size="31" font-weight="bold" fill="#111" >4</text></g>
<g transform="translate(567.25,1205.80) scale(1.1467,0.9136)"><text font-size="31" font-weight="bold" fill="#111" >5</text></g>
<g transform="translate(657.51,1205.80) scale(1.1467,0.9136)"><text font-size="31" font-weight="bold" fill="#111" >6</text></g>
<g transform="translate(747.77,1205.80) scale(1.1467,0.9136)"><text font-size="31" font-weight="bold" fill="#111" >7</text></g>
<g transform="translate(355.83,620.97) scale(1.0251,0.9703)"><text font-size="37" font-weight="normal" fill="#111" stroke="#111" stroke-width="1.6">Voltage (V)</text></g>
<g transform="translate(53.67,361.67) scale(0.9658,0.9366) rotate(-90)"><text font-size="40" font-weight="normal" fill="#111" stroke="#111" stroke-width="0.5">Current (A)</text></g>
<g transform="translate(618.21,506.74) scale(1.0471,0.9625)"><text font-size="32" font-weight="normal" fill="#111" stroke="#111" stroke-width="1.3">D = <tspan class="one">1</tspan> mm</text><path d="M763,0 L583,0 L583,1098 Q540,1050 420,985 Q300,920 222,890 L222,1057 Q373,1125 486,1220 Q599,1318 647,1409 L763,1409 Z" transform="translate(59.578,0.000) scale(0.01562,-0.01562)" fill="#111" stroke="#111" stroke-width="83.20"/></g>
<g transform="translate(173.15,305.44) scale(0.8414,0.9415) rotate(-90)"><text font-size="27" font-weight="bold" fill="#111" >Current Density (A/cm<tspan font-size="17" dy="-11">2</tspan><tspan dy="11">)</tspan></text></g>
<g transform="translate(300.00,309.94) scale(1.0094,0.9269)"><text font-size="27" font-weight="bold" fill="#111" >Voltage (V)</text></g>
<g transform="translate(365.40,1268.76) scale(1.0188,0.8595)"><text font-size="37" font-weight="normal" fill="#111" stroke="#111" stroke-width="1.6">J (A/cm<tspan font-size="23" dy="-15">2</tspan><tspan dy="15">)</tspan></text></g>
<g transform="translate(32.10,1033.55) scale(0.9500,0.9239) rotate(-90)"><text font-size="40" font-weight="normal" fill="#111" stroke="#111" stroke-width="0.3">d(V)/d(lnJ) (V)</text></g>
<g transform="translate(871.50,976.35) scale(0.9500,0.9156) rotate(-90)"><text font-size="40" font-weight="normal" fill="#111" stroke="#111" stroke-width="0.4">H(J) (V)</text></g>
</svg></body></html>
